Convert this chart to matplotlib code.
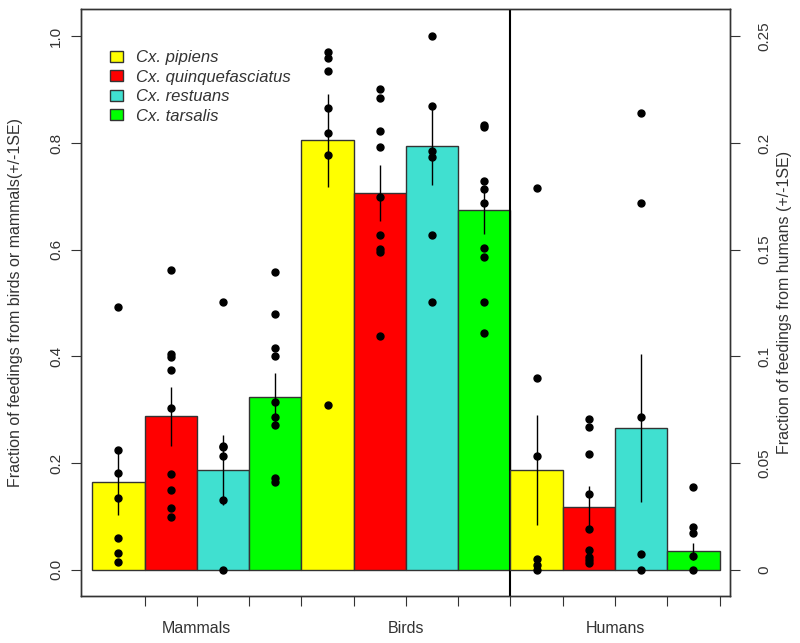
import numpy as np
import matplotlib.pyplot as plt
from matplotlib.patches import Patch
from matplotlib.transforms import blended_transform_factory

plt.rcParams["font.family"] = ["Liberation Sans", "DejaVu Sans"]

species = ["Cx. pipiens", "Cx. quinquefasciatus", "Cx. restuans", "Cx. tarsalis"]
colors = ["#FFFF00", "#FF0000", "#40E0D0", "#00FF00"]
groups = ["Mammals", "Birds", "Humans"]

# fraction of feedings (left axis: mammals, birds; right axis: humans)
mammal_mean = [0.165, 0.288, 0.187, 0.323]
mammal_se = [0.063, 0.055, 0.065, 0.045]
bird_mean = [0.805, 0.706, 0.794, 0.675]
bird_se = [0.087, 0.052, 0.073, 0.045]
human_mean = [0.0468, 0.0296, 0.0665, 0.0086]
human_se = [0.0258, 0.0099, 0.0346, 0.0039]

# per-site values (black dots)
mammal_pts = [
    [0.493, 0.224, 0.181, 0.135, 0.060, 0.032, 0.014],
    [0.562, 0.404, 0.399, 0.375, 0.304, 0.179, 0.149, 0.116, 0.099],
    [0.501, 0.233, 0.230, 0.213, 0.131, 0.0],
    [0.558, 0.479, 0.415, 0.400, 0.315, 0.287, 0.271, 0.172, 0.165],
]
bird_pts = [
    [0.971, 0.960, 0.935, 0.866, 0.818, 0.777, 0.308],
    [0.901, 0.885, 0.822, 0.792, 0.698, 0.627, 0.601, 0.595, 0.438],
    [1.0, 0.870, 0.785, 0.773, 0.627, 0.501],
    [0.834, 0.830, 0.728, 0.713, 0.687, 0.603, 0.586, 0.501, 0.444],
]
human_pts = [
    [0.1787, 0.0899, 0.0535, 0.0050, 0.0023, 0.0],
    [0.0705, 0.0670, 0.0541, 0.0354, 0.0190, 0.0094, 0.0062, 0.0047, 0.0031],
    [0.2141, 0.1717, 0.0718, 0.0072, 0.0],
    [0.0387, 0.0201, 0.0172, 0.0067, 0.0],
]

txt = "#333333"
W, H = 800, 643
fig = plt.figure(figsize=(W / 100, H / 100), dpi=100)
ax = fig.add_axes([81 / W, 1 - 596 / H, 649 / W, 587 / H])
ax2 = ax.twinx()

ylim = (-0.049, 1.051)
ax.set_xlim(-0.216, 12.2)
ax.set_ylim(*ylim)
ax2.set_ylim(ylim[0] * 0.25, ylim[1] * 0.25)


def draw(axis, start, means, ses, pts):
    x = np.arange(4) + start + 0.5
    axis.bar(x, means, width=1.0, color=colors, edgecolor="#333333", linewidth=1.0, zorder=2)
    lo = np.array(means) - np.array(ses)
    hi = np.array(means) + np.array(ses)
    axis.vlines(x, lo, hi, color="black", linewidth=1.0, zorder=3)
    for xi, p in zip(x, pts):
        axis.plot([xi] * len(p), p, "o", color="black", markersize=5, zorder=4)


draw(ax, 0, mammal_mean, mammal_se, mammal_pts)
draw(ax, 4, bird_mean, bird_se, bird_pts)
draw(ax2, 8, human_mean, human_se, human_pts)

ax.axvline(8, color="black", linewidth=1.5, zorder=5)

for a in (ax, ax2):
    for s in a.spines.values():
        s.set_color(txt)
        s.set_linewidth(1.0)

ax.set_xticks(np.arange(1, 13))
ax.set_xticklabels([])
ax.tick_params(axis="x", direction="out", length=7, color=txt)

ax.set_yticks([0, 0.2, 0.4, 0.6, 0.8, 1.0])
ax.set_yticklabels(["0.0", "0.2", "0.4", "0.6", "0.8", "1.0"])
ax.tick_params(axis="y", direction="out", length=7, color=txt, labelcolor=txt,
               labelsize=11, labelrotation=90, pad=6)
for lab in ax.get_yticklabels():
    lab.set_va("center")

ax2.set_yticks([0, 0.05, 0.1, 0.15, 0.2, 0.25])
ax2.set_yticklabels(["0", "0.05", "0.1", "0.15", "0.2", "0.25"])
ax2.tick_params(axis="y", direction="out", length=7, color=txt, labelcolor=txt,
                labelsize=11, labelrotation=90, pad=13)
for lab in ax2.get_yticklabels():
    lab.set_va("center")

trans = blended_transform_factory(ax.transData, ax.transAxes)
for g, xc in zip(groups, [2, 6, 10]):
    ax.text(xc, -0.056, g, transform=trans, ha="center", va="center",
            fontsize=11.5, color=txt)

ax.set_ylabel("Fraction of feedings from birds or mammals(+/-1SE)", fontsize=11.5, color=txt)
ax.yaxis.set_label_coords(-0.09, 0.5)
ax2.set_ylabel("Fraction of feedings from humans (+/-1SE)", fontsize=11.5, color=txt,
               rotation=90)
ax2.yaxis.set_label_coords(1.072, 0.5)

handles = [Patch(facecolor=c, edgecolor="#333333", linewidth=1.0) for c in colors]
leg = ax.legend(handles, species, loc="upper left", bbox_to_anchor=(0.0447, 0.93),
                frameon=False, fontsize=12, handlelength=0.78, handleheight=0.68,
                handletextpad=0.75, labelspacing=0.27, borderaxespad=0, borderpad=0)
for t in leg.get_texts():
    t.set_fontstyle("italic")
    t.set_color(txt)

fig.savefig("out.png", dpi=100, facecolor="white")
